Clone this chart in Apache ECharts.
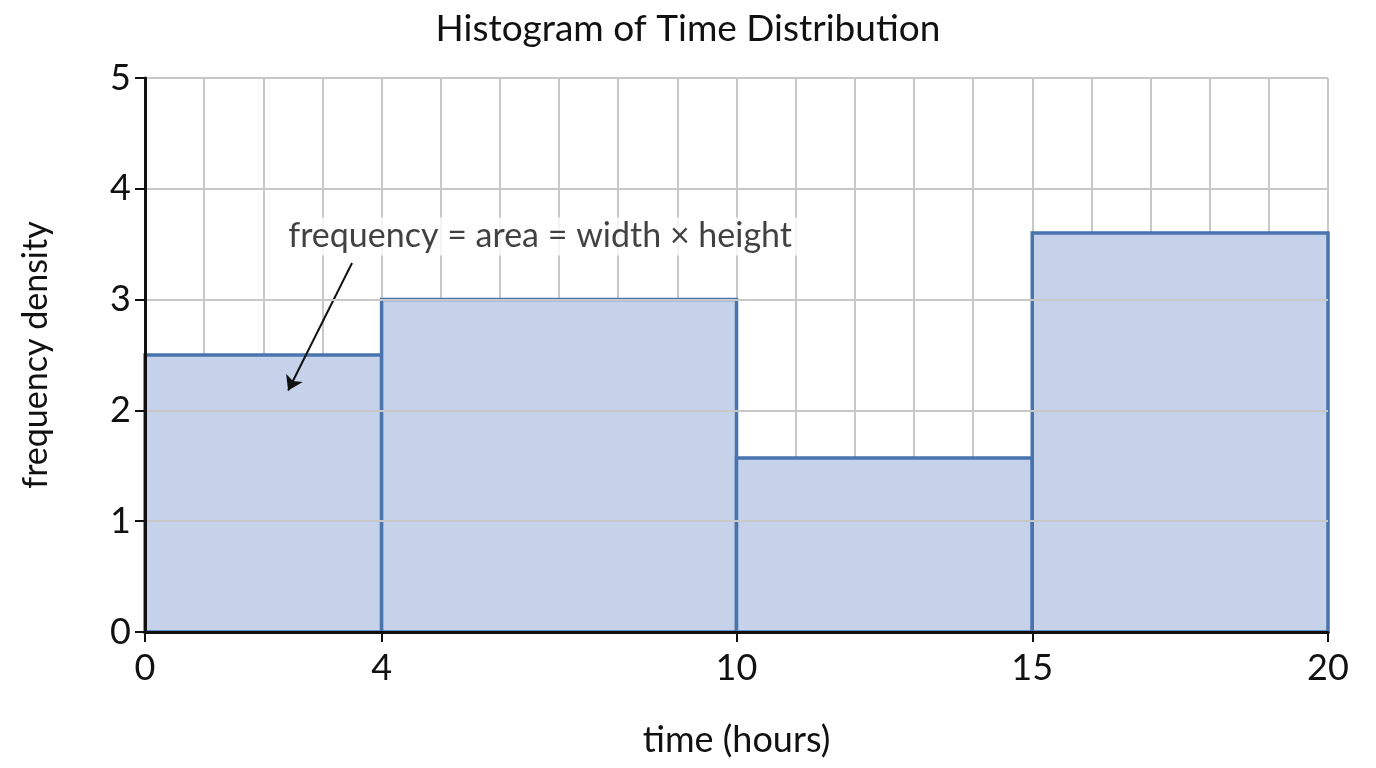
<!DOCTYPE html>
<html><head><meta charset="utf-8">
<script src="https://cdn.jsdelivr.net/npm/echarts@6/dist/echarts.min.js"></script>
<style>html,body{margin:0;background:#fff}#c{width:1376px;height:768px}</style>
</head><body><div id="c"></div>
<script>
const binEdges = [0, 4, 10, 15, 20];
const densities = [2.5, 3.0, 1.57, 3.6];
const xTicks = [0, 4, 10, 15, 20];
const annotationText = 'frequency = area = width × height';
const arrowFrom = [3.5, 3.33];
const arrowTo = [2.42, 2.18];
const annotationAt = [6.68, 3.57];

const bins = densities.map((d, i) => [binEdges[i], binEdges[i + 1], d]);
const chart = echarts.init(document.getElementById('c'));
const F = 'Lato, "Open Sans", sans-serif';
chart.setOption({
  animation: false,
  title: {text: 'Histogram of Time Distribution', left: 'center', top: 6,
    textStyle: {fontFamily: F, fontSize: 37, fontWeight: 'normal', color: '#111'}},
  grid: {left: 145, right: 48, top: 78, bottom: 136},
  xAxis: [{type: 'value', min: 0, max: 20, interval: 1,
    axisLine: {show: false}, axisTick: {show: false}, axisLabel: {show: false},
    splitLine: {show: true, lineStyle: {color: '#c8c8c8', width: 2}}},
  {type: 'value', min: 0, max: 20, position: 'bottom', name: 'time (hours)',
    nameLocation: 'middle', nameGap: 90,
    nameTextStyle: {fontFamily: F, fontSize: 36, color: '#111'},
    axisLine: {show: true, lineStyle: {color: '#111', width: 3}},
    axisTick: {show: true, length: 10, lineStyle: {color: '#111', width: 2}, customValues: xTicks},
    axisLabel: {customValues: xTicks, fontFamily: F, fontSize: 36, color: '#111', margin: 18},
    splitLine: {show: false}, z: 10}],
  yAxis: {type: 'value', min: 0, max: 5, interval: 1, name: 'frequency density',
    nameLocation: 'middle', nameGap: 92,
    nameTextStyle: {fontFamily: F, fontSize: 34, color: '#111'},
    axisLine: {show: true, lineStyle: {color: '#111', width: 3}},
    axisTick: {show: true, length: 10, lineStyle: {color: '#111', width: 2}},
    axisLabel: {fontFamily: F, fontSize: 36, color: '#111', margin: 14},
    splitLine: {show: true, lineStyle: {color: '#c8c8c8', width: 2}}, z: 10},
  series: [{
    type: 'custom', data: bins, xAxisIndex: 0,
    renderItem: (p, api) => {
      const a = api.coord([api.value(0), api.value(2)]);
      const b = api.coord([api.value(1), 0]);
      return {type: 'rect', shape: {x: a[0], y: a[1], width: b[0] - a[0], height: b[1] - a[1]},
        style: {fill: '#c6d2ea', stroke: '#4a74ae', lineWidth: 3.5}};
    },
    encode: {x: [0, 1], y: 2}, z: 2
  }, {
    type: 'scatter', data: [annotationAt], symbolSize: 0, z: 5, xAxisIndex: 0,
    label: {show: true, formatter: annotationText, position: 'inside',
      fontFamily: F, fontSize: 34, color: '#111', backgroundColor: '#fff', padding: [2, 6]},
    markLine: {silent: true, symbol: ['none', 'arrow'], symbolSize: 14, label: {show: false},
      lineStyle: {color: '#111', width: 2, type: 'solid'},
      data: [[{coord: arrowFrom}, {coord: arrowTo}]]}
  }]
});
</script></body></html>
